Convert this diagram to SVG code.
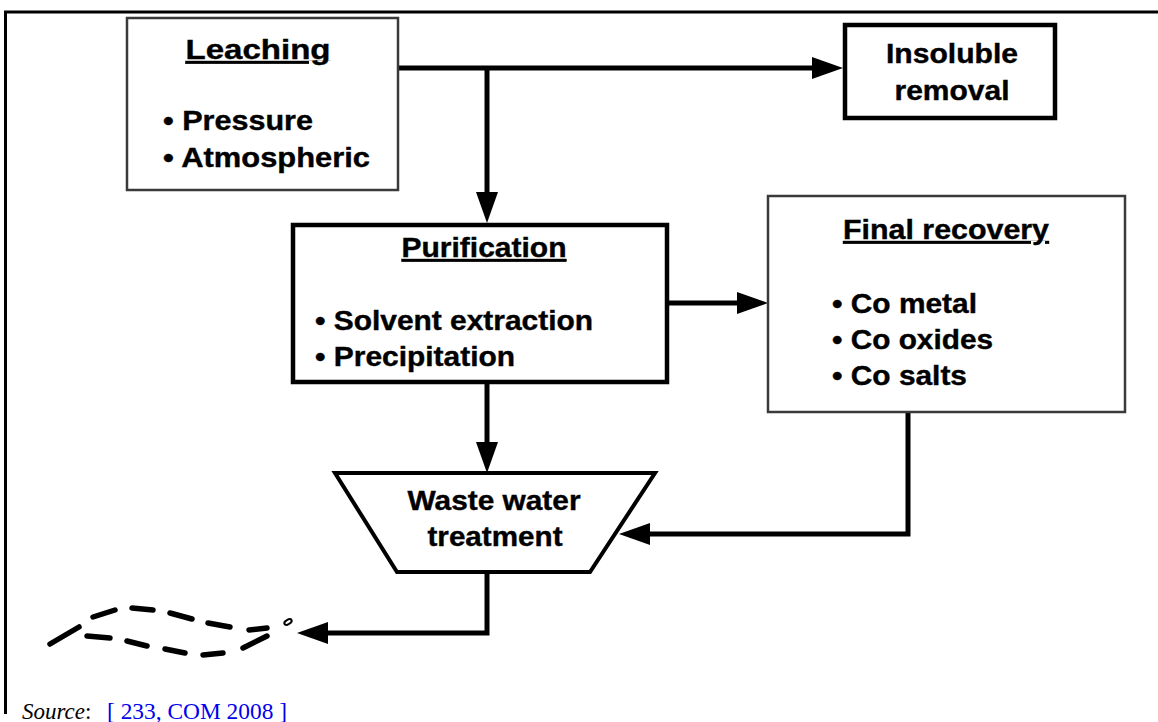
<svg xmlns="http://www.w3.org/2000/svg" width="1158" height="722" viewBox="0 0 1158 722">
<style>
.lbl{font-family:"Liberation Sans",Arial,sans-serif;font-weight:bold;font-size:28px;fill:#000;stroke:#000;stroke-width:0.4}
.ttl{text-decoration:underline}
.mid{text-anchor:middle}
.thin{fill:#fff;stroke:#3a3a3a;stroke-width:2.5}
.thick{fill:#fff;stroke:#000;stroke-width:4.5}
.conn{fill:none;stroke:#000;stroke-width:5;stroke-linejoin:miter}
.dash{fill:none;stroke:#000;stroke-width:5.5;stroke-linecap:round}
.frame{stroke:#000;stroke-width:3;fill:none}
.src{font-family:"Liberation Serif","Times New Roman",serif;font-size:23px}
</style>
<defs>
<marker id="ah" markerUnits="userSpaceOnUse" markerWidth="31" markerHeight="24" refX="9" refY="12" orient="auto" viewBox="0 0 31 24">
<path d="M0,1 L31,12 L0,23 z" fill="#000"/>
</marker>
</defs>
<rect width="1158" height="722" fill="#fff"/>
<g id="frame">
<path class="frame" d="M4,12 H1158 M5.5,11 V714"/>
</g>
<g id="connectors">
<path class="conn" d="M398,68 H821" marker-end="url(#ah)"/>
<path class="conn" d="M487,68 V201" marker-end="url(#ah)"/>
<path class="conn" d="M667,303 H746" marker-end="url(#ah)"/>
<path class="conn" d="M487,383 V451" marker-end="url(#ah)"/>
<path class="conn" d="M908,412 V534 H641" marker-end="url(#ah)"/>
<path class="conn" d="M487,573 V633 H319" marker-end="url(#ah)"/>
</g>
<g id="leaching">
<rect class="thin" x="127" y="18" width="271" height="172"/>
<text class="lbl ttl mid" x="258" y="59" textLength="145" lengthAdjust="spacingAndGlyphs">Leaching</text>
<text class="lbl" x="163" y="130" textLength="150" lengthAdjust="spacingAndGlyphs">• Pressure</text>
<text class="lbl" x="163" y="167" textLength="207" lengthAdjust="spacingAndGlyphs">• Atmospheric</text>
</g>
<g id="insoluble">
<rect class="thick" x="845" y="25" width="210" height="93"/>
<text class="lbl mid" x="952" y="63" textLength="132" lengthAdjust="spacingAndGlyphs">Insoluble</text>
<text class="lbl mid" x="952" y="100" textLength="115" lengthAdjust="spacingAndGlyphs">removal</text>
</g>
<g id="purification">
<rect class="thick" x="293" y="225" width="374" height="157"/>
<text class="lbl ttl mid" x="484" y="257" textLength="165" lengthAdjust="spacingAndGlyphs">Purification</text>
<text class="lbl" x="315" y="330" textLength="278" lengthAdjust="spacingAndGlyphs">• Solvent extraction</text>
<text class="lbl" x="315" y="366" textLength="200" lengthAdjust="spacingAndGlyphs">• Precipitation</text>
</g>
<g id="final-recovery">
<rect class="thin" x="768" y="196" width="357" height="216"/>
<text class="lbl ttl mid" x="946" y="239" textLength="206" lengthAdjust="spacingAndGlyphs">Final recovery</text>
<text class="lbl" x="832" y="313" textLength="145" lengthAdjust="spacingAndGlyphs">• Co metal</text>
<text class="lbl" x="832" y="349" textLength="161" lengthAdjust="spacingAndGlyphs">• Co oxides</text>
<text class="lbl" x="832" y="385" textLength="135" lengthAdjust="spacingAndGlyphs">• Co salts</text>
</g>
<g id="waste-water-treatment">
<polygon points="335,473 655,473 590,572 397,572" fill="#fff" stroke="#000" stroke-width="4" stroke-linejoin="miter"/>
<text class="lbl mid" x="494" y="510" font-size="27" textLength="173" lengthAdjust="spacingAndGlyphs">Waste water</text>
<text class="lbl mid" x="495" y="546" font-size="27" textLength="135" lengthAdjust="spacingAndGlyphs">treatment</text>
</g>
<g id="discharge">
<path class="dash" d="M50,644 L79,627 M93,617 L115,610 M132,608 L153,610 M170,613 L192,619 M208,623 L230,627 M249,630 L267,628 M87,636 L110,638 M127,641 L147,646 M165,649 L185,653 M203,655 L223,653 M243,648 L267,636"/>
<ellipse cx="288" cy="622" rx="4" ry="2.2" transform="rotate(-30 288 622)" fill="none" stroke="#000" stroke-width="2"/>
</g>
<g id="source">
<text class="src" x="22" y="719"><tspan font-style="italic">Source</tspan>:</text>
<text class="src" x="107" y="719" fill="#0000ee" textLength="180" lengthAdjust="spacingAndGlyphs">[ 233, COM 2008 ]</text>
</g>
</svg>
